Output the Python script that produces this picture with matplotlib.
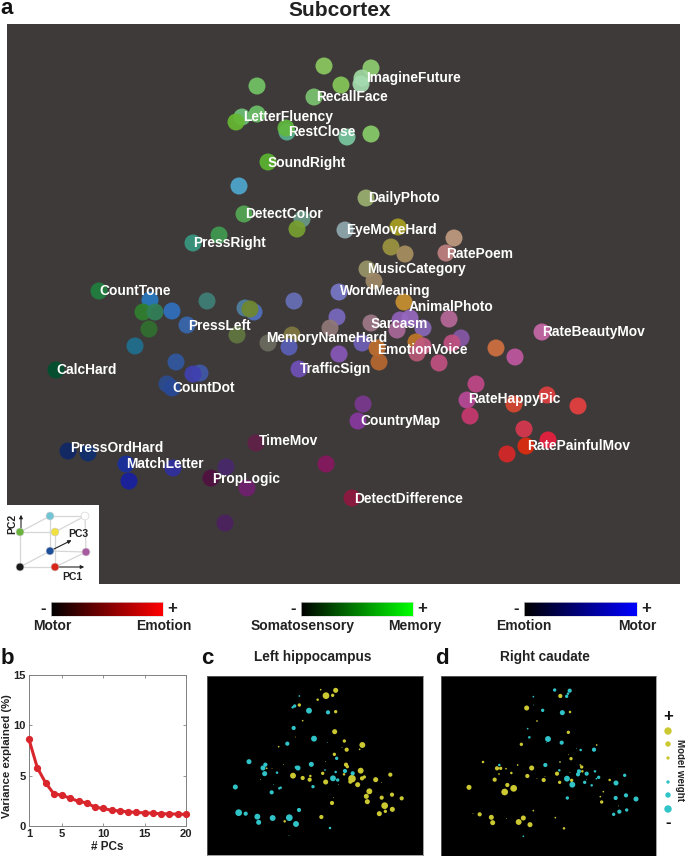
import numpy as np
import matplotlib
matplotlib.use('Agg')
import matplotlib.pyplot as plt
from matplotlib.colors import LinearSegmentedColormap

plt.rcParams['font.family'] = ['Liberation Sans', 'DejaVu Sans']
plt.rcParams['font.weight'] = 'bold'

W, H = 685, 856

##### TASK MAP (PC1, PC2 positions and RGB coded colour)
pc1 = [324, 371, 362, 361, 341, 314, 257, 242, 257, 287, 236, 286, 347, 371, 268, 239, 366, 244, 302, 297,
       345, 398, 219, 193, 391, 405, 454, 446, 367, 374, 339, 294, 245, 254, 250, 404, 337, 330, 371, 423,
       400, 410, 397, 449, 292, 268, 289, 237, 362, 377, 416, 417, 423, 461, 452, 439, 339, 379, 299, 542,
       496, 515, 476, 467, 470, 547, 514, 578, 524, 548, 526, 507, 99, 150, 143, 155, 172, 207, 187, 149,
       135, 176, 200, 193, 167, 172, 56, 68, 88, 126, 173, 129, 226, 211, 256, 326, 247, 225, 363, 358, 352]
pc2 = [66, 68, 78, 84, 85, 97, 86, 117, 114, 132, 122, 128, 137, 134, 162, 186, 198, 214, 219, 229,
       230, 227, 235, 243, 247, 254, 238, 253, 269, 281, 292, 301, 308, 312, 309, 302, 317, 328, 323, 328,
       320, 318, 330, 319, 335, 343, 347, 335, 343, 348, 342, 353, 346, 338, 343, 363, 354, 362, 369, 332,
       348, 357, 384, 400, 416, 395, 404, 406, 429, 440, 446, 454, 291, 300, 312, 312, 311, 301, 325, 329,
       346, 362, 373, 374, 384, 388, 370, 451, 453, 464, 468, 481, 467, 478, 443, 464, 488, 523, 404, 421, 498]
task_colors = ['#8cc860', '#8fce70', '#a0d8a0', '#a5dcb0', '#85c858', '#7cc470', '#72c465', '#70c078', '#6cc068', '#58b090',
               '#66b832', '#60b840', '#78c8a0', '#88cc68', '#5cb430', '#4ea8d0', '#9ab070', '#55a855', '#6a9a88', '#78a030',
               '#90a8b0', '#a8a020', '#409c50', '#389880', '#9c9440', '#a89060', '#c09c80', '#c08080', '#989468', '#a08a68',
               '#7878c8', '#6870b8', '#507fa0', '#5070c0', '#70882c', '#c89030', '#7868c0', '#907878', '#a07888', '#8868b8',
               '#9060b8', '#9868c0', '#a86898', '#b86898', '#807840', '#6c6c60', '#5a60b8', '#607840', '#7060b8', '#c07030',
               '#c07828', '#b85878', '#c05880', '#8858a8', '#c05080', '#c05080', '#8858b8', '#b86830', '#7050b8', '#c868a8',
               '#d07040', '#c058a0', '#c04888', '#b84898', '#c83870', '#e04040', '#d84830', '#e84040', '#d83850', '#e82040',
               '#e02c10', '#d82828', '#208040', '#2878c0', '#2f8030', '#308058', '#3070c0', '#408078', '#3868b0', '#307030',
               '#207090', '#3058a0', '#4058a8', '#4040b0', '#2c4c90', '#284898', '#005030', '#102868', '#103070', '#1830a0',
               '#3030a0', '#1820a0', '#48286c', '#501040', '#602048', '#881860', '#702070', '#4c2060', '#7a3890', '#8838a0',
               '#901840']

task_names = ['ImagineFuture', 'RecallFace', 'LetterFluency', 'RestClose', 'SoundRight', 'DailyPhoto', 'DetectColor',
              'EyeMoveHard', 'PressRight', 'RatePoem', 'MusicCategory', 'CountTone', 'WordMeaning', 'AnimalPhoto',
              'PressLeft', 'Sarcasm', 'RateBeautyMov', 'MemoryNameHard', 'EmotionVoice', 'TrafficSign', 'CalcHard',
              'CountDot', 'RateHappyPic', 'CountryMap', 'TimeMov', 'RatePainfulMov', 'PressOrdHard', 'MatchLetter',
              'PropLogic', 'DetectDifference']
name_x = [366, 316, 243, 288, 268, 368, 245, 346, 193, 446, 367, 99, 340, 409, 188, 371, 542, 266, 377, 300, 56, 172,
          468, 360, 259, 527, 70, 126, 212, 354]
name_y = [77, 96, 116, 131, 162, 197, 213, 229, 242, 253, 268, 290, 290, 306, 325, 323, 331, 337, 349, 368, 369, 387,
          398, 420, 440, 445, 447, 463, 478, 498]

##### VARIANCE EXPLAINED
n_pcs = np.arange(1, 21)
variance = [8.6, 5.8, 4.3, 3.2, 3.05, 2.75, 2.45, 2.3, 1.85, 1.75, 1.55, 1.5, 1.4, 1.35, 1.3, 1.27, 1.22, 1.2, 1.18, 1.15]

##### LEFT HIPPOCAMPUS WEIGHTS
hip_pos_x = [379, 408, 399, 363, 354, 299, 408, 309, 405, 434, 488, 441, 480, 427, 404, 439, 443, 483, 369, 280, 309, 332, 330, 378, 433, 457, 452, 487, 494, 528, 572, 546, 474, 509, 500, 503, 546, 577, 606, 401, 397, 555, 557, 578, 539, 365, 255, 237, 287, 251, 217, 201, 183, 378]
hip_pos_y = [107, 91, 106, 89, 119, 135, 155, 182, 215, 243, 255, 269, 268, 263, 283, 314, 320, 332, 340, 347, 354, 348, 359, 366, 343, 356, 365, 355, 351, 359, 344, 367, 374, 394, 409, 425, 413, 404, 415, 413, 429, 437, 454, 448, 461, 471, 484, 260, 231, 314, 325, 325, 358, 305]
hip_pos_w = [8, 6, 4, 2, 3, 4, 4, 2, 6, 4, 7, 5, 2, 1, 4, 5, 4, 7, 4, 7, 5, 3, 5, 6, 3, 9, 5, 5, 4, 6, 5, 1, 6, 7, 6, 6, 5, 5, 5, 1, 5, 8, 4, 6, 6, 5, 3, 2, 1, 1, 1, 2, 1, 1]
hip_neg_x = [299, 285, 279, 328, 385, 282, 343, 263, 383, 148, 197, 190, 295, 290, 335, 195, 232, 376, 408, 411, 436, 459, 400, 414, 416, 340, 222, 243, 239, 216, 107, 117, 138, 173, 177, 219, 269, 289, 298, 391, 268]
hip_neg_y = [108, 138, 142, 152, 157, 204, 236, 251, 247, 305, 314, 324, 324, 322, 313, 341, 338, 330, 336, 295, 333, 340, 355, 360, 373, 380, 373, 383, 385, 397, 381, 458, 461, 470, 487, 474, 473, 492, 450, 504, 527]
hip_neg_w = [2, 4, 3, 7, 5, 5, 7, 5, 1, 6, 5, 6, 6, 4, 6, 6, 3, 2, 3, 4, 5, 5, 7, 4, 1, 4, 1, 3, 3, 5, 6, 8, 5, 7, 6, 7, 8, 7, 5, 3, 1]

##### RIGHT CAUDATE WEIGHTS
cau_pos_x = [375, 274, 404, 305, 399, 258, 484, 407, 400, 374, 143, 247, 185, 196, 212, 289, 191, 228, 276, 178, 305, 329, 325, 365, 404, 441, 435, 439, 373, 409, 523, 216, 235, 208, 101, 504, 495, 499, 550, 133, 113, 168, 172, 214, 250, 264, 284, 294, 360, 386]
cau_pos_y = [108, 144, 156, 183, 217, 253, 255, 296, 284, 306, 306, 315, 325, 325, 326, 324, 342, 339, 348, 359, 356, 350, 360, 341, 337, 334, 315, 321, 367, 361, 360, 375, 385, 396, 382, 395, 410, 426, 438, 463, 460, 472, 488, 476, 486, 474, 494, 452, 473, 505]
cau_pos_w = [5, 6, 3, 2, 4, 4, 2, 4, 1, 2, 3, 2, 5, 4, 2, 6, 2, 3, 5, 5, 1, 1, 5, 5, 1, 3, 2, 4, 4, 4, 3, 5, 8, 8, 6, 2, 2, 4, 1, 5, 1, 6, 6, 1, 7, 6, 6, 2, 2, 3]
cau_neg_x = [358, 403, 398, 394, 294, 295, 322, 381, 277, 282, 338, 333, 379, 423, 436, 476, 330, 192, 372, 431, 428, 454, 479, 568, 395, 411, 448, 453, 469, 483, 490, 542, 572, 541, 602, 396, 552, 574, 535, 264]
cau_neg_y = [90, 92, 101, 109, 110, 135, 151, 158, 206, 232, 237, 247, 248, 265, 270, 269, 315, 315, 331, 334, 343, 341, 334, 346, 356, 374, 367, 358, 376, 356, 352, 369, 406, 414, 417, 414, 455, 450, 463, 529]
cau_neg_w = [4, 5, 3, 4, 2, 1, 4, 6, 2, 3, 7, 1, 5, 1, 3, 5, 5, 3, 3, 5, 5, 5, 3, 4, 7, 7, 4, 1, 3, 2, 4, 6, 5, 5, 6, 4, 5, 4, 4, 2]

legend_pos_w = [3.7, 2.7, 1.7]
legend_neg_w = [1.7, 2.7, 3.7]

##### COLOUR KEY
cube_x = [20, 55, 50, 86, 20, 55, 50, 85]
cube_y = [567, 567, 551, 552, 532, 532, 516, 516]
cube_colors = ['#1a1a1a', '#d8261c', '#1c4f9c', '#a85aa0', '#6ab23c', '#f0e040', '#70c4d4', '#ffffff']
cube_edges = [(0, 1), (0, 2), (1, 3), (2, 3), (4, 5), (4, 6), (5, 7), (6, 7), (0, 4), (1, 5), (2, 6), (3, 7)]

bar_titles = [('Motor', 'Emotion'), ('Somatosensory', 'Memory'), ('Emotion', 'Motor')]
bar_tops = ['#ff0000', '#00ff00', '#0000ff']

CYAN = '#30c4c8'
YELLOW = '#ccc832'


def px_axes(x0, y0, x1, y1):
    # axes from pixel box, top-left origin
    return fig.add_axes([x0 / W, 1 - y1 / H, (x1 - x0) / W, (y1 - y0) / H])


def px_text(x, y, s, **kw):
    fig.text(x / W, 1 - y / H, s, **kw)


def weight_size(w, per_unit):
    # radius in px to scatter size in points^2
    return (2 * np.array(w) * per_unit * 0.72) ** 2


fig = plt.figure(figsize=(W / 100, H / 100), dpi=100, facecolor='white')

##### PANEL A
ax = px_axes(7, 24, 680, 584)
ax.set_facecolor('#3e3a39')
ax.set_xlim(7, 680)
ax.set_ylim(584, 24)
ax.set_xticks([])
ax.set_yticks([])
for s in ax.spines.values():
    s.set_visible(False)
ax.scatter(pc1, pc2, s=150, c=task_colors, alpha=0.92, linewidths=0, zorder=2)
for name, x, y in zip(task_names, name_x, name_y):
    ax.text(x, y + 1, name, color='white', fontsize=9.9, va='center', ha='left', zorder=3)

##### CUBE KEY
cube = px_axes(7, 505, 99, 584)
cube.set_xlim(7, 99)
cube.set_ylim(584, 505)
cube.set_xticks([])
cube.set_yticks([])
for s in cube.spines.values():
    s.set_visible(False)
for a, b in cube_edges:
    cube.plot([cube_x[a], cube_x[b]], [cube_y[a], cube_y[b]], color='#d6d6d6', lw=0.9, zorder=1)
cube.annotate('', xy=(87, 567), xytext=(55, 567), arrowprops=dict(arrowstyle='-|>', color='#222222', lw=0.8, mutation_scale=5))
cube.annotate('', xy=(21, 512), xytext=(21, 532), arrowprops=dict(arrowstyle='-|>', color='#222222', lw=0.8, mutation_scale=5))
cube.annotate('', xy=(74, 539), xytext=(50, 551), arrowprops=dict(arrowstyle='-|>', color='#222222', lw=0.8, mutation_scale=5))
cube.scatter(cube_x, cube_y, s=32, c=cube_colors, edgecolors='#cccccc', linewidths=0.4, zorder=3)
cube.text(72, 577, 'PC1', fontsize=7.5, ha='center', va='center', color='#222222')
cube.text(12, 524, 'PC2', fontsize=7.5, ha='center', va='center', rotation=90, color='#222222')
cube.text(78, 534, 'PC3', fontsize=7.5, ha='center', va='center', color='#222222')

##### COLOUR BARS
bar_boxes = [(51, 163), (301, 413), (524, 637)]
title_centres = [(52, 164), (303, 415), (524, 637)]
gradient = np.linspace(0, 1, 256)[None, :]
for (x0, x1), top, (lo, hi), (cl, cr) in zip(bar_boxes, bar_tops, bar_titles, title_centres):
    b = px_axes(x0, 602, x1, 616)
    b.imshow(gradient, aspect='auto', cmap=LinearSegmentedColormap.from_list('bar', ['#000000', top]))
    b.set_xticks([])
    b.set_yticks([])
    for s in b.spines.values():
        s.set_edgecolor('#d9d9d9')
        s.set_linewidth(0.5)
    px_text(x0 - 8, 609, '-', fontsize=12, ha='center', va='center', color='#222222')
    px_text(x1 + 9, 609, '+', fontsize=12, ha='center', va='center', color='#222222')
    px_text(cl, 626, lo, fontsize=10, ha='center', va='center', color='#222222')
    px_text(cr, 626, hi, fontsize=10, ha='center', va='center', color='#222222')

##### PANEL B
axb = px_axes(29, 675, 186, 826)
axb.plot(n_pcs, variance, '-o', color='#d8262c', lw=2.2, ms=4.2, clip_on=False, zorder=3)
axb.set_xlim(1, 20)
axb.set_ylim(0, 15)
axb.set_xticks([1, 5, 10, 15, 20])
axb.set_yticks([0, 5, 10, 15])
axb.tick_params(direction='in', length=2.5, width=0.6, color='#808080', labelsize=8, pad=2.5,
                top=True, right=True, labelcolor='#222222')
for s in axb.spines.values():
    s.set_edgecolor('#808080')
    s.set_linewidth(0.7)
axb.set_xlabel('# PCs', fontsize=8.5, labelpad=1, color='#222222', fontweight='bold')
px_text(7, 756, 'Variance explained (%)', fontsize=8.2, rotation=90, ha='center', va='center', color='#222222')

##### PANELS C AND D
for box, px, py, pw, nx, ny, nw in [
        ((207, 676, 423, 855), hip_pos_x, hip_pos_y, hip_pos_w, hip_neg_x, hip_neg_y, hip_neg_w),
        ((441, 676, 656, 856), cau_pos_x, cau_pos_y, cau_pos_w, cau_neg_x, cau_neg_y, cau_neg_w)]:
    axw = px_axes(*box)
    axw.set_facecolor('black')
    axw.set_xlim(0, box[2] - box[0])
    axw.set_ylim(box[3] - box[1], 0)
    axw.set_xticks([])
    axw.set_yticks([])
    for s in axw.spines.values():
        s.set_edgecolor('#777777')
        s.set_linewidth(0.5)
    off_x = 22 / 3 if box[0] == 207 else 17 / 3
    off_y = 48 / 3
    axw.scatter(np.array(px) / 3 - off_x, np.array(py) / 3 - off_y, s=weight_size(pw, 0.42), c=YELLOW, linewidths=0)
    axw.scatter(np.array(nx) / 3 - off_x, np.array(ny) / 3 - off_y, s=weight_size(nw, 0.42), c=CYAN, linewidths=0)

##### WEIGHT LEGEND
leg = px_axes(658, 710, 678, 832)
leg.set_xlim(658, 678)
leg.set_ylim(832, 710)
leg.axis('off')
leg.scatter([668] * 3, [731, 744, 758], s=weight_size(legend_pos_w, 1), c=YELLOW, linewidths=0)
leg.scatter([668] * 3, [782, 795, 809], s=weight_size(legend_neg_w, 1), c=CYAN, linewidths=0)
px_text(668, 717, '+', fontsize=12, ha='center', va='center', color='#111111')
px_text(668, 822, '-', fontsize=12, ha='center', va='center', color='#111111')
px_text(680, 770, 'Model weight', fontsize=7, rotation=270, ha='center', va='center', color='#222222')

##### TITLES
px_text(340, 10, 'Subcortex', fontsize=15, ha='center', va='center', color='#222222')
px_text(313, 657, 'Left hippocampus', fontsize=9.8, ha='center', va='center', color='#222222')
px_text(545, 657, 'Right caudate', fontsize=9.8, ha='center', va='center', color='#222222')
for letter, x, y in [('a', 7, 9), ('b', 7, 658), ('c', 207, 658), ('d', 442, 658)]:
    px_text(x, y, letter, fontsize=16, ha='center', va='center', color='#111111')

fig.savefig('out.png', dpi=100)
